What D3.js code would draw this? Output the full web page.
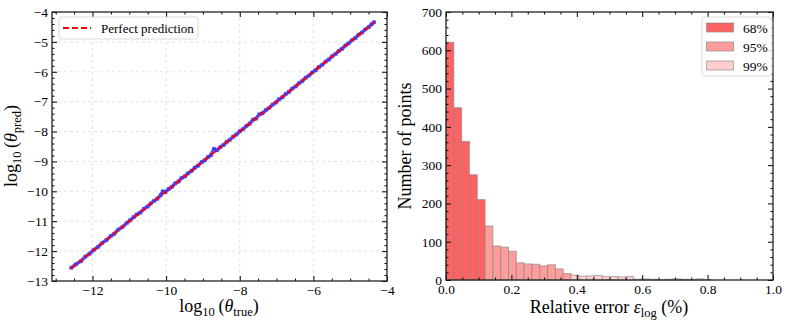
<!DOCTYPE html>
<html>
<head>
<meta charset="utf-8">
<script src="https://cdn.jsdelivr.net/npm/d3@7"></script>
<style>
  body { margin: 0; background: #fff; }
  svg text { font-family: "Liberation Serif", "Times New Roman", Times, serif; fill: #000; }
</style>
</head>
<body>
<div id="container"></div>
<script>
// ---- data: predicted vs true (log10 theta) ----
const thetaTrue = [
  -12.58, -12.45, -12.31, -12.2, -12.08, -11.97, -11.85, -11.74, -11.62, -11.5,
  -11.41, -11.3, -11.18, -11.07, -10.98, -10.88, -10.79, -10.7, -10.6, -10.5,
  -10.42, -10.33, -10.24, -10.15, -10.09, -10.02, -9.93, -9.84, -9.75, -9.66,
  -9.58, -9.49, -9.4, -9.3, -9.22, -9.13, -9.03, -8.95, -8.86, -8.78,
  -8.7, -8.62, -8.53, -8.44, -8.35, -8.27, -8.18, -8.09, -8.0, -7.91,
  -7.82, -7.73, -7.64, -7.56, -7.47, -7.38, -7.29, -7.2, -7.11, -7.02,
  -6.93, -6.84, -6.75, -6.66, -6.57, -6.48, -6.39, -6.3, -6.21, -6.12,
  -6.03, -5.94, -5.85, -5.76, -5.67, -5.58, -5.49, -5.4, -5.31, -5.22,
  -5.13, -5.04, -4.95, -4.86, -4.77, -4.68, -4.59, -4.5, -4.42, -4.35
];
const thetaPred = [
  -12.56, -12.44, -12.33, -12.19, -12.09, -11.96, -11.86, -11.73, -11.63, -11.49,
  -11.42, -11.28, -11.19, -11.06, -10.97, -10.86, -10.77, -10.71, -10.58, -10.51,
  -10.41, -10.32, -10.25, -10.13, -10.0, -10.03, -9.92, -9.85, -9.73, -9.67,
  -9.55, -9.5, -9.39, -9.31, -9.21, -9.14, -9.02, -8.96, -8.85, -8.79,
  -8.58, -8.63, -8.52, -8.45, -8.34, -8.28, -8.17, -8.1, -7.99, -7.92,
  -7.81, -7.74, -7.6, -7.57, -7.42, -7.39, -7.28, -7.21, -7.1, -7.03,
  -6.92, -6.85, -6.74, -6.67, -6.56, -6.49, -6.38, -6.31, -6.2, -6.13,
  -6.02, -5.95, -5.84, -5.77, -5.66, -5.59, -5.48, -5.41, -5.3, -5.23,
  -5.12, -5.05, -4.94, -4.87, -4.76, -4.69, -4.58, -4.51, -4.41, -4.34
];

// ---- data: histogram of relative error ----
const binWidth = 0.0239;
const binCounts = [
  621, 450, 362, 275, 210, 141, 89, 86, 75, 45,
  42, 41, 37, 40, 29, 17, 13, 10, 11, 12,
  9, 9, 8, 9, 2, 3, 2, 1, 2, 3,
  2, 1, 3, 1
];
const bandNames = ["68%", "95%", "99%"];
const bandUpper = [0.119, 0.38, Infinity];
const bandColors = ["#ff6262", "#ff9c9c", "#ffcfcf"];

// ticks
const leftXTicks = [-12, -10, -8, -6, -4];
const leftYTicks = [-13, -12, -11, -10, -9, -8, -7, -6, -5, -4];
const rightXTicks = [0, 0.2, 0.4, 0.6, 0.8, 1.0];
const rightYTicks = [0, 100, 200, 300, 400, 500, 600, 700];

const W = 793, H = 325;
const SERIF = '"Liberation Serif", "Times New Roman", Times, serif';
const svg = d3.select('#container').append('svg')
  .attr('width', W).attr('height', H);

// helper: inward ticks on all four sides
function frameAxes(g, x, y, box, opt) {
  const [x0, x1, y0, y1] = box;

  const addAxis = (axis, tr) => {
    const a = g.append('g').attr('transform', tr).call(axis)
      .attr('font-family', SERIF).attr('font-size', 13.5);
    a.select('.domain').remove();
    a.selectAll('line').attr('stroke', '#000').attr('stroke-width', 1);
    a.selectAll('text').attr('font-family', SERIF).style('font-size', '13.5px');
    return a;
  };

  // major
  addAxis(d3.axisBottom(x).tickValues(opt.xMajor).tickFormat(opt.fmtX).tickSize(-5).tickPadding(4), `translate(0,${y1})`);
  addAxis(d3.axisTop(x).tickValues(opt.xMajor).tickFormat('').tickSize(-5), `translate(0,${y0})`);
  addAxis(d3.axisLeft(y).tickValues(opt.yMajor).tickFormat(opt.fmtY).tickSize(-5).tickPadding(4), `translate(${x0},0)`);
  addAxis(d3.axisRight(y).tickValues(opt.yMajor).tickFormat('').tickSize(-5), `translate(${x1},0)`);
  // minor
  addAxis(d3.axisBottom(x).tickValues(opt.xMinor).tickFormat('').tickSize(-2.5), `translate(0,${y1})`);
  addAxis(d3.axisTop(x).tickValues(opt.xMinor).tickFormat('').tickSize(-2.5), `translate(0,${y0})`);
  addAxis(d3.axisLeft(y).tickValues(opt.yMinor).tickFormat('').tickSize(-2.5), `translate(${x0},0)`);
  addAxis(d3.axisRight(y).tickValues(opt.yMinor).tickFormat('').tickSize(-2.5), `translate(${x1},0)`);

  g.append('rect')
    .attr('x', x0).attr('y', y0)
    .attr('width', x1 - x0).attr('height', y1 - y0)
    .attr('fill', 'none').attr('stroke', '#222').attr('stroke-width', 1.3);
}

const minorRange = (a, b, step) => d3.range(Math.round((b - a) / step) + 1).map(i => +(a + i * step).toFixed(4));

/*==================================================
    LEFT PANEL: PREDICTED VS TRUE
===================================================*/
const L = [52, 387, 12, 281];
const xL = d3.scaleLinear().domain([-13.1, -4]).range([L[0], L[1]]);
const yL = d3.scaleLinear().domain([-13, -4]).range([L[3], L[2]]);
const gL = svg.append('g');

// grid
gL.append('g').selectAll('line').data(leftXTicks.filter(d => d > -13.1 && d < -4)).enter().append('line')
  .attr('x1', d => xL(d)).attr('x2', d => xL(d)).attr('y1', L[2]).attr('y2', L[3])
  .attr('stroke', '#dcdcdc').attr('stroke-width', 0.8).attr('stroke-dasharray', '3,3');
gL.append('g').selectAll('line').data(leftYTicks.filter(d => d > -13 && d < -4)).enter().append('line')
  .attr('y1', d => yL(d)).attr('y2', d => yL(d)).attr('x1', L[0]).attr('x2', L[1])
  .attr('stroke', '#dcdcdc').attr('stroke-width', 0.8).attr('stroke-dasharray', '3,3');

// points
const pts = thetaTrue.map((t, i) => ({ t, p: thetaPred[i] }));
gL.append('path')
  .datum(pts)
  .attr('d', d3.line().x(d => xL(d.t)).y(d => yL(d.p)))
  .attr('fill', 'none').attr('stroke', '#3a3aff').attr('stroke-width', 3.6)
  .attr('stroke-linecap', 'round').attr('stroke-opacity', 0.85);
gL.append('g').selectAll('path').data(pts).enter().append('path')
  .attr('transform', d => `translate(${xL(d.t)},${yL(d.p)})`)
  .attr('d', d3.symbol(d3.symbolX, 10))
  .attr('fill', 'none').attr('stroke', '#2020ff').attr('stroke-width', 1.2).attr('stroke-opacity', 0.6);

// perfect prediction line
const ext = d3.extent(thetaTrue);
gL.append('line')
  .attr('x1', xL(ext[0])).attr('y1', yL(ext[0]))
  .attr('x2', xL(ext[1])).attr('y2', yL(ext[1]))
  .attr('stroke', '#ff0000').attr('stroke-width', 2).attr('stroke-dasharray', '6,3');

frameAxes(gL, xL, yL, L, {
  xMajor: leftXTicks, yMajor: leftYTicks,
  xMinor: minorRange(-13, -4, 0.5).filter(d => d % 2 !== 0),
  yMinor: minorRange(-13, -4, 0.2).filter(d => Math.abs(d - Math.round(d)) > 1e-6),
  fmtX: d3.format('d'), fmtY: d3.format('d')
});

// legend
const legL = gL.append('g').attr('transform', 'translate(59,17)');
legL.append('rect').attr('width', 139).attr('height', 22).attr('rx', 3)
  .attr('fill', '#fff').attr('fill-opacity', 0.85).attr('stroke', '#d0d0d0').attr('stroke-width', 0.8);
legL.append('line').attr('x1', 4).attr('x2', 32).attr('y1', 11).attr('y2', 11)
  .attr('stroke', '#ff0000').attr('stroke-width', 2).attr('stroke-dasharray', '6,3');
legL.append('text').attr('x', 42).attr('y', 15.5).style('font-size', '13px').text('Perfect prediction');

// axis labels
gL.append('text')
  .attr('x', 219).attr('y', 312).attr('text-anchor', 'middle').style('font-size', '18px')
  .call(t => {
    t.append('tspan').text('log');
    t.append('tspan').attr('dy', 4).style('font-size', '12.5px').text('10');
    t.append('tspan').attr('dy', -4).text('\u2009(');
    t.append('tspan').style('font-style', 'italic').text('θ');
    t.append('tspan').attr('dy', 4).style('font-size', '12.5px').text('true');
    t.append('tspan').attr('dy', -4).text(')');
  });
gL.append('text')
  .attr('transform', 'translate(17,146) rotate(-90)').attr('text-anchor', 'middle').style('font-size', '18px')
  .call(t => {
    t.append('tspan').text('log');
    t.append('tspan').attr('dy', 4).style('font-size', '12.5px').text('10');
    t.append('tspan').attr('dy', -4).text('\u2009(');
    t.append('tspan').style('font-style', 'italic').text('θ');
    t.append('tspan').attr('dy', 4).style('font-size', '12.5px').text('pred');
    t.append('tspan').attr('dy', -4).text(')');
  });

/*==================================================
    RIGHT PANEL: HISTOGRAM
===================================================*/
const R = [446, 773, 12, 280];
const xR = d3.scaleLinear().domain([0, 1]).range([R[0], R[1]]);
const yR = d3.scaleLinear().domain([0, 700]).range([R[3], R[2]]);
const gR = svg.append('g');

const bins = binCounts.map((c, i) => {
  const lo = i * binWidth, hi = (i + 1) * binWidth;
  const band = bandUpper.findIndex(u => lo < u);
  return { lo, hi, c, band };
});

gR.append('g').selectAll('rect').data(bins).enter().append('rect')
  .attr('x', d => xR(d.lo)).attr('width', d => xR(d.hi) - xR(d.lo))
  .attr('y', d => yR(d.c)).attr('height', d => yR(0) - yR(d.c))
  .attr('fill', d => bandColors[d.band])
  .attr('stroke', '#808080').attr('stroke-opacity', 0.6).attr('stroke-width', 1);

frameAxes(gR, xR, yR, R, {
  xMajor: rightXTicks, yMajor: rightYTicks,
  xMinor: minorRange(0, 1, 0.05).filter(d => Math.abs(d * 5 - Math.round(d * 5)) > 1e-6),
  yMinor: minorRange(0, 700, 20).filter(d => d % 100 !== 0),
  fmtX: d3.format('.1f'), fmtY: d3.format('d')
});

// legend
const legR = gR.append('g').attr('transform', 'translate(702,17)');
legR.append('rect').attr('width', 70).attr('height', 59).attr('rx', 3)
  .attr('fill', '#fff').attr('fill-opacity', 0.85).attr('stroke', '#d0d0d0').attr('stroke-width', 0.8);
bandNames.forEach((name, i) => {
  legR.append('rect').attr('x', 4.5).attr('y', 6 + i * 19).attr('width', 27).attr('height', 9)
    .attr('fill', bandColors[i]).attr('stroke', '#808080').attr('stroke-opacity', 0.6);
  legR.append('text').attr('x', 41).attr('y', 15.5 + i * 19).style('font-size', '13.5px').text(name);
});

// axis labels
gR.append('text')
  .attr('x', 609).attr('y', 313).attr('text-anchor', 'middle').style('font-size', '18px')
  .call(t => {
    t.append('tspan').text('Relative error ');
    t.append('tspan').style('font-style', 'italic').text('ε');
    t.append('tspan').attr('dy', 4).style('font-size', '12.5px').text('log');
    t.append('tspan').attr('dy', -4).text(' (%)');
  });
gR.append('text')
  .attr('transform', 'translate(411,146) rotate(-90)').attr('text-anchor', 'middle').style('font-size', '18px')
  .text('Number of points');
</script>
</body>
</html>
